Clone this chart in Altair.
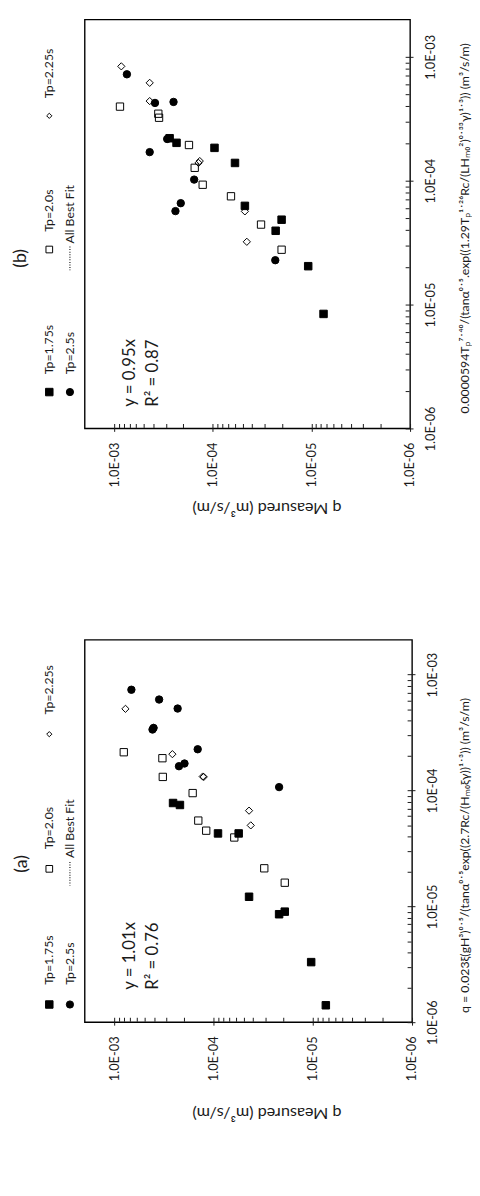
import altair as alt
import pandas as pd

# ---------------- data ----------------
series_names = ["Tp=1.75s", "Tp=2.5s", "Tp=2.0s", "Tp=2.25s"]

# Panel (a): predicted (formula a) vs measured q
a_p175_pred = [1.4e-6, 3.3e-6, 8.55e-6, 9.0e-6, 1.21e-5, 4.26e-5, 4.26e-5, 7.8e-5, 7.5e-5]
a_p175_meas = [7.4e-6, 1.04e-5, 2.19e-5, 1.92e-5, 4.4e-5, 9.05e-5, 5.6e-5, 2.57e-4, 2.19e-4]
a_p25_pred = [7.41e-4, 6.1e-4, 5.1e-4, 3.47e-4, 3.36e-4, 2.27e-4, 1.62e-4, 1.71e-4, 1.07e-4]
a_p25_meas = [6.76e-4, 3.55e-4, 2.31e-4, 4.04e-4, 4.14e-4, 1.45e-4, 2.24e-4, 1.97e-4, 2.19e-5]
a_p20_pred = [2.14e-4, 1.9e-4, 1.31e-4, 9.5e-5, 5.5e-5, 4.5e-5, 3.93e-5, 2.13e-5, 1.6e-5]
a_p20_meas = [8.07e-4, 3.29e-4, 3.26e-4, 1.63e-4, 1.43e-4, 1.19e-4, 6.2e-5, 3.09e-5, 1.92e-5]
a_p225_pred = [5.07e-4, 3.47e-4, 2.06e-4, 1.31e-4, 1.32e-4, 6.7e-5, 5.0e-5]
a_p225_meas = [7.76e-4, 4.04e-4, 2.61e-4, 1.26e-4, 1.29e-4, 4.4e-5, 4.23e-5]

# Panel (b): predicted (formula b) vs measured q
b_p175_pred = [8.4e-6, 2.04e-5, 3.94e-5, 4.84e-5, 6.26e-5, 1.39e-4, 1.84e-4, 2.2e-4, 2.02e-4]
b_p175_meas = [7.55e-6, 1.08e-5, 2.31e-5, 2.01e-5, 4.74e-5, 5.97e-5, 9.64e-5, 2.75e-4, 2.34e-4]
b_p25_pred = [7.22e-4, 4.24e-4, 4.32e-4, 1.7e-4, 1.02e-4, 6.58e-5, 5.68e-5, 2.28e-5, 2.17e-4]
b_p25_meas = [7.46e-4, 3.87e-4, 2.51e-4, 4.38e-4, 1.55e-4, 2.12e-4, 2.4e-4, 2.33e-5, 2.91e-4]
b_p20_pred = [3.96e-4, 3.47e-4, 3.22e-4, 1.94e-4, 1.27e-4, 9.27e-5, 7.48e-5, 4.42e-5, 2.77e-5]
b_p20_meas = [8.77e-4, 3.58e-4, 3.52e-4, 1.75e-4, 1.53e-4, 1.27e-4, 6.56e-5, 3.25e-5, 2.01e-5]
b_p225_pred = [8.37e-4, 6.16e-4, 4.39e-4, 1.44e-4, 1.39e-4, 5.65e-5, 3.21e-5]
b_p225_meas = [8.5e-4, 4.38e-4, 4.38e-4, 1.36e-4, 1.4e-4, 4.74e-5, 4.53e-5]

axis_domain = [1e-6, 2e-3]
major_ticks = [1e-6, 1e-5, 1e-4, 1e-3]
minor_ticks = [k * 10.0 ** e for e in (-6, -5, -4) for k in range(2, 10)]

eq_a = ["y = 1.01x", "R² = 0.76"]
eq_b = ["y = 0.95x", "R² = 0.87"]

xtitle_a = "q = 0.023ξ(gH³)⁰˙⁵/(tanα⁰˙⁵exp((2.7Rc/(Hₘ₀ξγ))¹˙³)) (m³/s/m)"
xtitle_b = "0.0000594Tₚ⁷˙⁴⁰/(tanα⁰˙⁵.exp((1.29Tₚ¹˙²⁶Rc/(LHₘ₀²)⁰˙³³γ)¹˙³))  (m³/s/m)"
ytitle = "q Measured (m³/s/m)"

FONT = "Lato, 'Open Sans', sans-serif"
INK = "#1a1a1a"

# marker styles per series (filled / open)
marker_shapes = ["square", "circle", "square", "diamond"]
marker_fill = ["black", "black", "transparent", "transparent"]
marker_sizes = [58, 54, 46, 28]


def make_df(lists):
    rows = []
    for name, (pred, meas) in zip(series_names, lists):
        for p, m in zip(pred, meas):
            rows.append({"series": name, "pred": p, "meas": m})
    return pd.DataFrame(rows)


df_a = make_df([(a_p175_pred, a_p175_meas), (a_p25_pred, a_p25_meas),
                (a_p20_pred, a_p20_meas), (a_p225_pred, a_p225_meas)])
df_b = make_df([(b_p175_pred, b_p175_meas), (b_p25_pred, b_p25_meas),
                (b_p20_pred, b_p20_meas), (b_p225_pred, b_p225_meas)])

label_expr = "'1.0E-0' + (-round(log(datum.value)/LN10))"


def panel(df, W, H, xtitle, eq, tag, L, T):
    xscale = alt.Scale(type="log", domain=axis_domain, reverse=True, nice=False)
    yscale = alt.Scale(type="log", domain=axis_domain, nice=False)

    x_major = alt.Axis(orient="bottom", values=major_ticks, labelExpr=label_expr,
                       labelAngle=270, labelPadding=11, tickSize=8, offset=-5,
                       domain=False, grid=False, tickColor=INK,
                       labelFontSize=13, labelColor=INK, labelFont=FONT,
                       title=ytitle, titleAngle=180, titleX=T["bx"], titleY=T["by"],
                       titleAlign="center", titleBaseline="bottom",
                       titleFontSize=16.5, titleFontWeight="normal", titleFont=FONT,
                       titleColor=INK)
    y_major = alt.Axis(orient="right", values=major_ticks, labelExpr=label_expr,
                       labelAngle=270, labelAlign="center", labelBaseline="top",
                       labelPadding=12, tickSize=8, offset=-5, domain=False, grid=False,
                       tickColor=INK, labelFontSize=13, labelColor=INK, labelFont=FONT,
                       title=xtitle, titleAngle=270, titleX=T["rx"], titleY=T["ry"],
                       titleAlign="center", titleBaseline="top",
                       titleFontSize=12.5, titleFontWeight="normal", titleFont=FONT,
                       titleColor=INK)
    x_minor = alt.Axis(orient="bottom", values=minor_ticks, labels=False, tickSize=4,
                       offset=-5, domain=False, grid=False, title=None, tickColor=INK)
    y_minor = alt.Axis(orient="right", values=minor_ticks, labels=False, tickSize=4,
                       offset=-5, domain=False, grid=False, title=None, tickColor=INK)

    pts = alt.Chart(df).mark_point(filled=False, stroke="black", strokeWidth=1,
                                   opacity=1).encode(
        x=alt.X("meas:Q", scale=xscale, axis=x_major),
        y=alt.Y("pred:Q", scale=yscale, axis=y_major),
        shape=alt.Shape("series:N", scale=alt.Scale(domain=series_names,
                        range=marker_shapes), legend=None),
        fill=alt.Fill("series:N", scale=alt.Scale(domain=series_names,
                      range=marker_fill), legend=None),
        size=alt.Size("series:N", scale=alt.Scale(domain=series_names,
                      range=marker_sizes), legend=None),
    )
    minor = alt.Chart(df).mark_point(opacity=0).encode(
        x=alt.X("meas:Q", scale=xscale, axis=x_minor),
        y=alt.Y("pred:Q", scale=yscale, axis=y_minor),
    )

    layers = [pts, minor]

    # legend (drawn rotated, as in the picture)
    leg_pos = [(L["c1"], L["r3"]), (L["c2"], L["r3"]), (L["c1"], L["r2"]), (L["c1"], L["r1"])]
    for (cx, cy), shp, fl, sz in zip(leg_pos, marker_shapes, marker_fill, marker_sizes):
        layers.append(alt.Chart(pd.DataFrame({"k": [0]})).mark_point(
            shape=shp, fill=fl, stroke="black", strokeWidth=1,
            size=sz, opacity=1).encode(x=alt.value(cx), y=alt.value(cy)))
    leg_txt = [(series_names[0], L["c1"], L["t3"]),
               (series_names[1], L["c2"], L["t3"]),
               (series_names[2], L["c1"], L["t2"]),
               (series_names[3], L["c1"], L["t1"]),
               ("All Best Fit", L["c2"], L["tf"])]
    for txt, cx, cy in leg_txt:
        layers.append(alt.Chart(pd.DataFrame({"t": [txt]})).mark_text(
            angle=270, align="left", baseline="middle", fontSize=12.5, font=FONT,
            color=INK).encode(x=alt.value(cx), y=alt.value(cy), text="t:N"))
    layers.append(alt.Chart(pd.DataFrame({"k": [0]})).mark_rule(
        strokeDash=[1, 1.6], strokeWidth=1.2, color=INK).encode(
        x=alt.value(L["c2"]), y=alt.value(L["f0"]), y2=alt.value(L["f1"])))

    # equation text
    for i, line in enumerate(eq):
        layers.append(alt.Chart(pd.DataFrame({"t": [line]})).mark_text(
            angle=270, align="left", baseline="middle", fontSize=17, font=FONT,
            color=INK).encode(x=alt.value(L["ex"] + 24 * i), y=alt.value(L["ey"]),
                              text="t:N"))
    # panel tag
    layers.append(alt.Chart(pd.DataFrame({"t": [tag]})).mark_text(
        angle=270, align="center", baseline="middle", fontSize=18, font=FONT,
        color=INK).encode(x=alt.value(L["gx"]), y=alt.value(L["gy"]), text="t:N"))

    return alt.layer(*layers).resolve_axis(x="independent", y="independent").properties(
        width=W, height=H)


L_b = dict(c1=-36, c2=-15, r1=98, r2=234, r3=379, t1=80, t2=216, t3=361, tf=228,
           f0=231, f1=255, ex=46, ey=394, gx=-65, gy=243)
T_b = dict(bx=185, by=77, rx=54, ry=212)
L_a = dict(c1=-36, c2=-15, r1=96, r2=233, r3=371, t1=76, t2=213, t3=351, tf=222,
           f0=226, f1=250, ex=46, ey=356, gx=-64, gy=228)
T_a = dict(bx=185, by=89, rx=52, ry=219)

panel_b = panel(df_b, 331, 416, xtitle_b, eq_b, "(b)", L_b, T_b)
panel_a = panel(df_a, 333, 389, xtitle_a, eq_a, "(a)", L_a, T_a)

chart = alt.vconcat(panel_b, panel_a, spacing=125).configure_view(
    stroke="black", strokeWidth=1.4).properties(
    padding={"left": 3, "top": 1, "right": 0, "bottom": 0},
    background="white")

chart.save("out.html", embed_options={"renderer": "svg", "actions": False})
